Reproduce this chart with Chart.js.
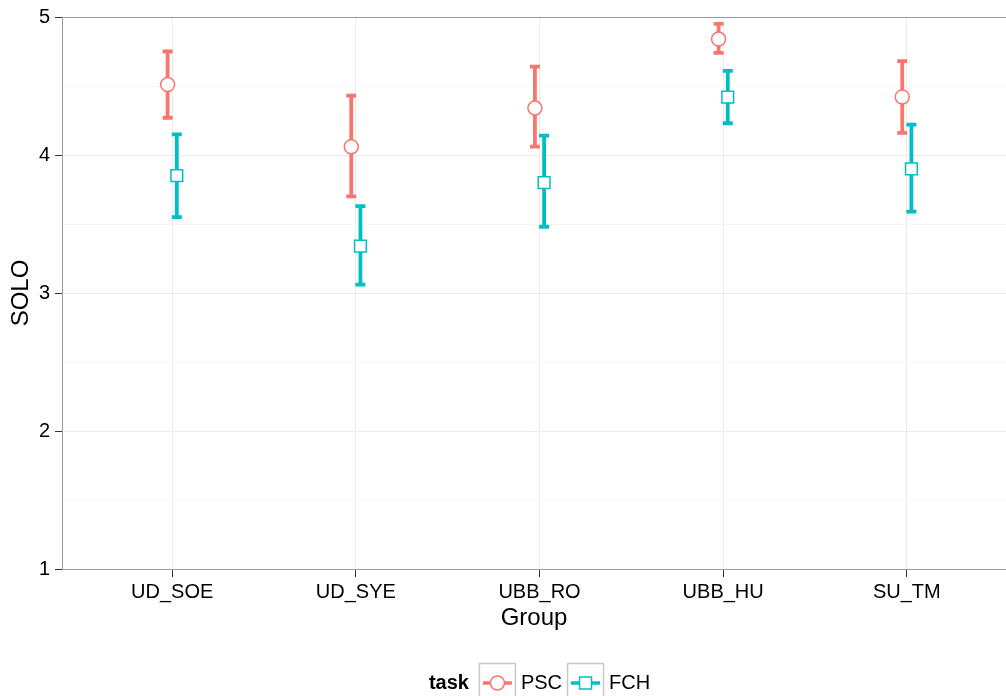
<!DOCTYPE html>
<html>
<head>
<meta charset="utf-8">
<script src="https://cdn.jsdelivr.net/npm/chart.js@4.4.1/dist/chart.umd.min.js"></script>
<style>
html, body { margin: 0; padding: 0; background: #fff; overflow: hidden; }
#wrap { width: 1006px; height: 696px; position: relative; }
</style>
</head>
<body>
<div id="wrap"><canvas id="chart"></canvas></div>
<script>
// values (means with lower / upper error limits)
const groups = ['UD_SOE', 'UD_SYE', 'UBB_RO', 'UBB_HU', 'SU_TM'];
const pscMean = [4.51, 4.06, 4.34, 4.84, 4.42];
const pscLow  = [4.27, 3.70, 4.06, 4.74, 4.16];
const pscHigh = [4.75, 4.43, 4.64, 4.95, 4.68];
const fchMean = [3.85, 3.34, 3.80, 4.42, 3.90];
const fchLow  = [3.55, 3.06, 3.48, 4.23, 3.59];
const fchHigh = [4.15, 3.63, 4.14, 4.61, 4.22];
const yTicks = [1, 2, 3, 4, 5];

const FONT = '"Liberation Sans", Arial, sans-serif';
const PSC_COL = '#F8766D';
const FCH_COL = '#00BFC4';
const dodge = 0.025;

// minor grid sits half way between the major ticks
const yGridTicks = [];
yTicks.forEach((v, i) => {
    yGridTicks.push(v);
    if (i < yTicks.length - 1) yGridTicks.push((v + yTicks[i + 1]) / 2);
});

function makePoints(mean, low, high, shift) {
    return mean.map((m, i) => ({ x: i + 1 + shift, y: m, low: low[i], high: high[i] }));
}

// draws the error bars under the points
const errorBars = {
    id: 'errorBars',
    beforeDatasetsDraw(chart) {
        const ctx = chart.ctx;
        const yScale = chart.scales.y;
        chart.data.datasets.forEach((ds, di) => {
            const meta = chart.getDatasetMeta(di);
            ctx.save();
            ctx.strokeStyle = ds.borderColor;
            ctx.lineWidth = 3.8;
            meta.data.forEach((pt, i) => {
                const raw = ds.data[i];
                const top = yScale.getPixelForValue(raw.high);
                const bot = yScale.getPixelForValue(raw.low);
                ctx.beginPath();
                ctx.moveTo(pt.x, top); ctx.lineTo(pt.x, bot);
                ctx.moveTo(pt.x - 5, top); ctx.lineTo(pt.x + 5, top);
                ctx.moveTo(pt.x - 5, bot); ctx.lineTo(pt.x + 5, bot);
                ctx.stroke();
            });
            ctx.restore();
        });
    }
};

function drawKeyPoint(ctx, style, x, y, color) {
    ctx.fillStyle = '#fff';
    ctx.strokeStyle = color;
    ctx.lineWidth = 1.5;
    ctx.beginPath();
    if (style === 'circle') ctx.arc(x, y, 7, 0, Math.PI * 2);
    else ctx.rect(x - 6, y - 6, 12, 12);
    ctx.fill();
    ctx.stroke();
}

// panel top border and the ggplot style legend at the bottom
const frameAndLegend = {
    id: 'frameAndLegend',
    afterDraw(chart) {
        const ctx = chart.ctx;
        const ca = chart.chartArea;
        ctx.save();
        ctx.strokeStyle = '#9a9a9a';
        ctx.lineWidth = 1;
        ctx.beginPath();
        ctx.moveTo(ca.left, ca.top + 0.5);
        ctx.lineTo(ca.right, ca.top + 0.5);
        ctx.stroke();

        const cy = 683;
        const keyW = 37;
        ctx.font = 'bold 20px ' + FONT;
        const titleW = ctx.measureText('task').width;
        ctx.font = '20px ' + FONT;
        const items = chart.data.datasets.map(ds => ({
            label: ds.label, color: ds.borderColor, style: ds.pointStyle,
            w: ctx.measureText(ds.label).width
        }));
        let total = titleW + 10;
        items.forEach((it, i) => { total += keyW + 5 + it.w + (i < items.length - 1 ? 5 : 0); });
        const center = chart.scales.x.getPixelForValue(3);
        let x = center - total / 2;

        ctx.fillStyle = '#000';
        ctx.textBaseline = 'middle';
        ctx.textAlign = 'left';
        ctx.font = 'bold 20px ' + FONT;
        ctx.fillText('task', x, cy);
        x += titleW + 10;

        items.forEach(it => {
            ctx.strokeStyle = '#c8c8c8';
            ctx.lineWidth = 1.5;
            ctx.strokeRect(x + 0.5, 663.5, keyW - 1, 40);
            ctx.strokeStyle = it.color;
            ctx.lineWidth = 3.5;
            ctx.beginPath();
            ctx.moveTo(x + 4, cy);
            ctx.lineTo(x + keyW - 4, cy);
            ctx.stroke();
            drawKeyPoint(ctx, it.style, x + keyW / 2, cy, it.color);
            x += keyW + 5;
            ctx.fillStyle = '#000';
            ctx.font = '20px ' + FONT;
            ctx.fillText(it.label, x, cy);
            x += it.w + 5;
        });
        ctx.restore();
    }
};

const ctx = document.getElementById('chart').getContext('2d');
new Chart(ctx, {
    type: 'scatter',
    data: {
        datasets: [{
            label: 'PSC',
            data: makePoints(pscMean, pscLow, pscHigh, -dodge),
            borderColor: PSC_COL,
            backgroundColor: '#fff',
            pointStyle: 'circle',
            pointRadius: 7,
            pointBorderWidth: 1.5
        }, {
            label: 'FCH',
            data: makePoints(fchMean, fchLow, fchHigh, dodge),
            borderColor: FCH_COL,
            backgroundColor: '#fff',
            pointStyle: 'rect',
            pointRadius: 8.3,
            pointBorderWidth: 1.5
        }]
    },
    options: {
        responsive: true,
        maintainAspectRatio: false,
        animation: false,
        events: [],
        layout: { autoPadding: false, padding: { top: 17, left: 0, right: 0, bottom: 63 } },
        plugins: { legend: { display: false }, tooltip: { enabled: false } },
        scales: {
            x: {
                type: 'linear',
                min: 0.4,
                max: 5.54,
                afterBuildTicks: ax => { ax.ticks = groups.map((g, i) => ({ value: i + 1 })); },
                afterFit: ax => { ax.height = 64; },
                grid: { color: '#ebebeb', tickColor: '#333', tickLength: 8 },
                border: { color: '#9a9a9a', width: 1 },
                ticks: {
                    autoSkip: false, maxRotation: 0, padding: 3, color: '#000',
                    font: { family: FONT, size: 20 },
                    callback: v => groups[Math.round(v) - 1]
                },
                title: {
                    display: true, text: 'Group', color: '#000',
                    font: { family: FONT, size: 24, lineHeight: 1 },
                    padding: { top: 0, bottom: 3 }
                }
            },
            y: {
                min: 1,
                max: 5,
                afterBuildTicks: ax => { ax.ticks = yGridTicks.map(v => ({ value: v })); },
                afterFit: ax => { ax.width = 62; },
                grid: {
                    color: c => (c.tick && Number.isInteger(c.tick.value)) ? '#ebebeb' : '#f6f6f6',
                    tickColor: c => (c.tick && Number.isInteger(c.tick.value)) ? '#333' : 'rgba(0,0,0,0)',
                    tickLength: 7
                },
                border: { color: '#9a9a9a', width: 1 },
                ticks: {
                    autoSkip: false, padding: 5, color: '#000',
                    font: { family: FONT, size: 20 },
                    callback: v => Number.isInteger(v) ? v : ''
                },
                title: {
                    display: true, text: 'SOLO', color: '#000',
                    font: { family: FONT, size: 24, lineHeight: 1 },
                    padding: { top: 9, bottom: 0 }
                }
            }
        }
    },
    plugins: [errorBars, frameAndLegend]
});
</script>
</body>
</html>
